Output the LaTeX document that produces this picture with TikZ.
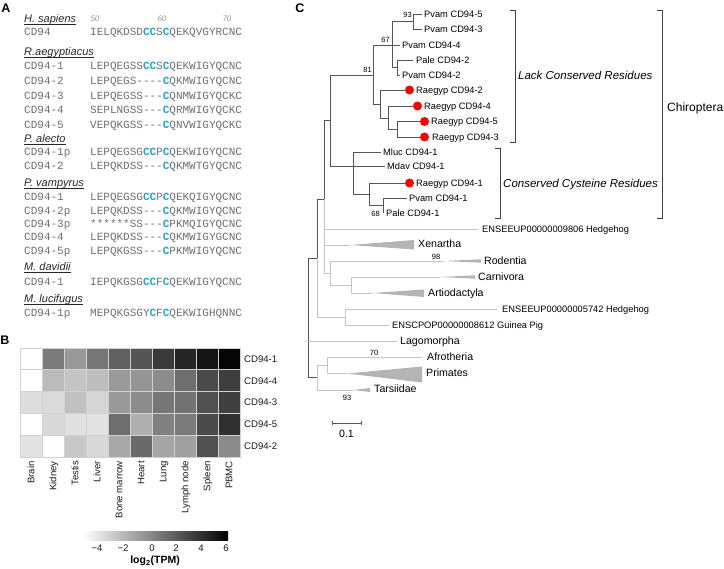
\documentclass[tikz,border=0pt]{standalone}
\usepackage{fontspec}
\setmainfont{Liberation Sans}
\newfontfamily\seqfont{Liberation Mono}
\definecolor{dk}{HTML}{555555}
\definecolor{lt}{HTML}{C4C4C4}
\definecolor{tri}{HTML}{B4B4B4}
\definecolor{seqgray}{HTML}{6E6E6E}
\definecolor{cys}{HTML}{1CA6CC}
\newcommand\bc[1]{\textcolor{cys}{\bfseries #1}}
\newcommand\gapthree{-\kern0pt-\kern0pt-\kern0pt}
\newcommand\gapfour{-\kern0pt-\kern0pt-\kern0pt-\kern0pt}
\begin{document}
\begin{tikzpicture}[x=1pt,y=-1pt,
  lab/.style={anchor=west,inner sep=0,font=\fontsize{9.3}{11}\selectfont,text height=6.7pt,text depth=0pt},
  grp/.style={anchor=west,inner sep=0,font=\fontsize{10.6}{12}\selectfont,text height=7.6pt,text depth=0pt},
  bs/.style={inner sep=0,font=\fontsize{7.5}{8}\selectfont,text height=5.4pt,text depth=0pt},
  seq/.style={anchor=west,inner sep=0,font=\seqfont\fontsize{11}{12}\selectfont,text=seqgray,text height=6.8pt,text depth=0pt},
  hd/.style={anchor=west,inner sep=0,font=\fontsize{11}{13}\selectfont\itshape,text=black!85,text height=7.9pt,text depth=0pt},
  ul/.style={draw=black!85,line width=0.7pt},
  num/.style={inner sep=0,font=\fontsize{8}{9}\selectfont\itshape,text=black!40,text height=5.7pt,text depth=0pt},
  pl/.style={inner sep=0,font=\fontsize{12.5}{14}\selectfont\bfseries,text height=9pt,text depth=0pt},
  hm/.style={inner sep=0,font=\fontsize{9.6}{11}\selectfont,text=black!90,text height=6.9pt,text depth=0pt},
  dkl/.style={draw=dk,line width=0.9pt},
  ltl/.style={draw=lt,line width=0.9pt},
  brk/.style={draw=black!75,line width=0.9pt},
  dot/.style={fill=red}]
\useasboundingbox (0,0) rectangle (724,569);

% ---------------- Panel A ----------------
\node[pl] (pA) at (6,8) {A};
\node[hd] (hH) at (24,19) {H. sapiens};
\node[num] (n50) at (95,19) {50};
\node[num] (n60) at (162,19) {60};
\node[num] (n70) at (227,19) {70};
\node[seq] (lH) at (24,32.5) {CD94};
\node[seq] (sH) at (90,32.5) {IELQKDSD\bc{CC}S\bc{C}QEKQVGYRCNC};

\node[hd] (hR) at (24,51.5) {R.aegyptiacus};
\node[seq] (lR1) at (24,66.5) {CD94-1};
\node[seq] (sR1) at (90,66.5) {LEPQEGSS\bc{CC}S\bc{C}QEKWIGYQCNC};
\node[seq] (lR2) at (24,81) {CD94-2};
\node[seq] (sR2) at (90,81) {LEPQEGS\gapfour\bc{C}QKMWIGYQCNC};
\node[seq] (lR3) at (24,96) {CD94-3};
\node[seq] (sR3) at (90,96) {LEPQEGSS\gapthree\bc{C}QNMWIGYQCKC};
\node[seq] (lR4) at (24,110.5) {CD94-4};
\node[seq] (sR4) at (90,110.5) {SEPLNGSS\gapthree\bc{C}QRMWIGYQCKC};
\node[seq] (lR5) at (24,125.5) {CD94-5};
\node[seq] (sR5) at (90,125.5) {VEPQKGSS\gapthree\bc{C}QNVWIGYQCKC};

\node[hd] (hPa) at (24,139) {P. alecto};
\node[seq] (lPa1) at (24,152) {CD94-1p};
\node[seq] (sPa1) at (90,152) {LEPQEGSG\bc{CC}P\bc{C}QEKWIGYQCNC};
\node[seq] (lPa2) at (24,166.5) {CD94-2};
\node[seq] (sPa2) at (90,166.5) {LEPQKDSS\gapthree\bc{C}QKMWTGYQCNC};

\node[hd] (hPv) at (24,182.5) {P. vampyrus};
\node[seq] (lPv1) at (24,197) {CD94-1};
\node[seq] (sPv1) at (90,197) {LEPQEGSG\bc{CC}P\bc{C}QEKQIGYQCNC};
\node[seq] (lPv2) at (24,211) {CD94-2p};
\node[seq] (sPv2) at (90,211) {LEPQKDSS\gapthree\bc{C}QKMWIGYQCNC};
\node[seq] (lPv3) at (24,224) {CD94-3p};
\node[seq] (sPv3) at (90,224) {******SS\gapthree\bc{C}PKMQIGYQCNC};
\node[seq] (lPv4) at (24,237.5) {CD94-4};
\node[seq] (sPv4) at (90,237.5) {LEPQKDSS\gapthree\bc{C}QKMWIGYGCNC};
\node[seq] (lPv5) at (24,251) {CD94-5p};
\node[seq] (sPv5) at (90,251) {LEPQKGSS\gapthree\bc{C}PKMWIGYQCNC};

\node[hd] (hMd) at (24,267) {M. davidii};
\node[seq] (lMd) at (24,282.5) {CD94-1};
\node[seq] (sMd) at (90,282.5) {IEPQKGSG\bc{CC}F\bc{C}QEKWIGYQCNC};

\node[hd] (hMl) at (24,299) {M. lucifugus};
\node[seq] (lMl) at (24,313.5) {CD94-1p};
\node[seq] (sMl) at (90,313.5) {MEPQKGSGY\bc{C}F\bc{C}QEKWIGHQNNC};

\foreach \h in {hH,hR,hPa,hPv,hMd,hMl}
  \draw[ul] ([yshift=-1.3pt]\h.south west) -- ([yshift=-1.3pt]\h.south east);

% ---------------- Panel B ----------------
\node[pl] (pB) at (5,340) {B};
\foreach \row [count=\r from 0] in {
  {255,122,153,119,96,85,58,38,21,5},
  {255,187,196,190,154,149,140,110,74,62},
  {220,218,192,213,153,140,118,114,80,64},
  {255,216,224,226,110,176,128,122,74,48},
  {226,255,200,216,168,106,165,160,80,138}} {
  \foreach \v [count=\c from 0] in \row {
    \pgfmathsetmacro\gv{\v/255}
    \definecolor{cellc}{gray}{\gv}
    \filldraw[fill=cellc,draw=black!18,line width=0.6pt]
      ({20+22*\c},{348+21.8*\r}) rectangle ({42+22*\c},{369.8+21.8*\r});
  }
}
\foreach \t [count=\r from 0] in {CD94-1,CD94-4,CD94-3,CD94-5,CD94-2}
  \node[hm,anchor=west] (rl\r) at (244,{358.9+21.8*\r}) {\t};
\foreach \t [count=\c from 0] in {Brain,Kidney,Testis,Liver,Bone marrow,Heart,Lung,Lymph node,Spleen,PBMC}
  \node[hm,anchor=east,rotate=90] (cl\c) at ({31+22*\c},461) {\t};
\shade[left color=white,right color=black] (83,532) rectangle (228,541);
\node[hm] (t1) at (97,548.5) {−4};
\node[hm] (t2) at (123,548.5) {−2};
\node[hm] (t3) at (152,548.5) {0};
\node[hm] (t4) at (176,548.5) {2};
\node[hm] (t5) at (201,548.5) {4};
\node[hm] (t6) at (226,548.5) {6};
\node[inner sep=0,font=\fontsize{10.5}{12}\selectfont\bfseries] (lg) at (155,561) {log\textsubscript{2}(TPM)};

% ---------------- Panel C ----------------
\node[pl] (pC) at (300,8) {C};
% dark (Chiroptera) branches
\draw[dkl] (422,14) -| (413,29) -- (422,29);
\draw[dkl] (392,21.5) -- (413,21.5);
\draw[dkl] (413,60) -| (397,75) -- (400,75);
\draw[dkl] (392,67.5) -- (397,67.5);
\draw[dkl] (392,21.5) -- (392,67.5);
\draw[dkl] (373,45) -- (400,45);
\draw[dkl] (405,90) -| (380,118) -- (388,118);
\draw[dkl] (413,106) -| (388,129.5) -- (397,129.5);
\draw[dkl] (420,121.5) -| (397,137) -- (420,137);
\draw[dkl] (373,104) -- (380,104);
\draw[dkl] (373,45) -- (373,104);
\draw[dkl] (330,75) -- (373,75);
\draw[dkl] (381,152) -| (353,194) -- (369,194);
\draw[dkl] (330,166) -- (385,166);
\draw[dkl] (405,183) -| (369,205.5) -- (383,205.5);
\draw[dkl] (407,198) -| (383,213);
\draw[dkl] (330,75) -- (330,166);
\draw[dkl] (324,120) -- (330,120);
\draw[dkl] (324,120) -- (324,199) -- (317,199) -- (317,258) -- (308,258) -- (308,377) -- (317,377);
% red dots
\fill[dot] (409.5,90) circle (4.5);
\fill[dot] (417.5,106) circle (4.5);
\fill[dot] (424.5,121.5) circle (4.5);
\fill[dot] (424.5,137) circle (4.5);
\fill[dot] (409.5,183) circle (4.5);
% light branches
\draw[ltl] (324,199) -- (324,273);
\draw[ltl] (324,229) -- (478,229);
\draw[ltl] (324,245) -- (350,245);
\fill[tri] (350,245) -- (414,240) -- (414,249.5) -- cycle;
\draw[ltl] (324,273) -- (330,273);
\draw[ltl] (330,261) -- (330,285);
\draw[ltl] (330,261) -- (443,261);
\fill[tri] (443,261) -- (481,259.3) -- (481,262.7) -- cycle;
\draw[ltl] (330,285) -- (351,285);
\draw[ltl] (351,277) -- (351,293);
\draw[ltl] (351,277) -- (440,277);
\fill[tri] (440,277) -- (475,275.3) -- (475,278.7) -- cycle;
\draw[ltl] (351,293) -- (372,293);
\fill[tri] (372,293) -- (424,289.5) -- (424,297) -- cycle;
\draw[ltl] (317,258) -- (317,317) -- (345,317);
\draw[ltl] (345,309) -- (345,325);
\draw[ltl] (345,309) -- (497,309);
\draw[ltl] (345,325) -- (389,325);
\draw[ltl] (308,341) -- (397,341);
\draw[ltl] (317,365) -- (317,390) -- (353,390);
\fill[tri] (353,390) -- (370,388) -- (370,392) -- cycle;
\draw[ltl] (317,365) -- (327,365);
\draw[ltl] (327,357) -- (327,373.5);
\draw[ltl] (327,357) -- (422,357);
\draw[ltl] (327,373.5) -- (347,373.5);
\fill[tri] (347,373.5) -- (422,366.5) -- (422,382.5) -- cycle;
% leaf labels
\node[lab] (L1) at (424,14) {Pvam CD94-5};
\node[lab] (L2) at (424,29) {Pvam CD94-3};
\node[lab] (L3) at (402,45) {Pvam CD94-4};
\node[lab] (L4) at (416,60) {Pale CD94-2};
\node[lab] (L5) at (402,75) {Pvam CD94-2};
\node[lab] (L6) at (416,90) {Raegyp CD94-2};
\node[lab] (L7) at (424,106) {Raegyp CD94-4};
\node[lab] (L8) at (431,121.5) {Raegyp CD94-5};
\node[lab] (L9) at (432,137) {Raegyp CD94-3};
\node[lab] (L10) at (383,152) {Mluc CD94-1};
\node[lab] (L11) at (387,166) {Mdav CD94-1};
\node[lab] (L12) at (416,183) {Raegyp CD94-1};
\node[lab] (L13) at (409,198) {Pvam CD94-1};
\node[lab] (L14) at (386,213) {Pale CD94-1};
\node[lab] (L15) at (482,229) {ENSEEUP00000009806 Hedgehog};
\node[grp] (L16) at (418,244) {Xenartha};
\node[grp] (L17) at (484,261) {Rodentia};
\node[grp] (L18) at (478,277) {Carnivora};
\node[grp] (L19) at (428,293) {Artiodactyla};
\node[lab] (L20) at (502,309) {ENSEEUP00000005742 Hedgehog};
\node[lab] (L21) at (392,325) {ENSCPOP00000008612 Guinea Pig};
\node[grp] (L22) at (400,341) {Lagomorpha};
\node[grp] (L23) at (427,357) {Afrotheria};
\node[grp] (L24) at (426,373) {Primates};
\node[grp] (L25) at (374,389) {Tarsiidae};
% bootstrap values
\node[bs,anchor=east] (b1) at (412,15) {93};
\node[bs,anchor=south east] (b2) at (390,42.5) {67};
\node[bs,anchor=south east] (b3) at (372,72.5) {81};
\node[bs,anchor=east] (b4) at (380,214) {68};
\node[bs] (b5) at (436,256.5) {98};
\node[bs] (b6) at (374,352.5) {70};
\node[bs] (b7) at (347,398) {93};
% brackets
\draw[brk] (510,10) -- (515,10) -- (515,142) -- (510,142);
\draw[brk] (495,148) -- (500,148) -- (500,218) -- (495,218);
\draw[brk] (657,10) -- (662,10) -- (662,218) -- (657,218);
\node[anchor=west,inner sep=0,font=\fontsize{11.5}{13}\selectfont\itshape,text height=8.3pt,text depth=0pt] (g1) at (518,75) {Lack Conserved Residues};
\node[anchor=west,inner sep=0,font=\fontsize{11.5}{13}\selectfont\itshape,text height=8.3pt,text depth=0pt] (g2) at (503,183) {Conserved Cysteine Residues};
\node[anchor=west,inner sep=0,font=\fontsize{12}{14}\selectfont,text height=8.6pt,text depth=0pt] (g3) at (667,107) {Chiroptera};
% scale bar
\draw[dkl,line width=0.8pt] (332,423) -- (361,423);
\draw[dkl,line width=0.8pt] (332,421) -- (332,425);
\draw[dkl,line width=0.8pt] (361,421) -- (361,425);
\node[grp,anchor=center] (sc) at (346.5,433.5) {0.1};
\end{tikzpicture}
\end{document}
